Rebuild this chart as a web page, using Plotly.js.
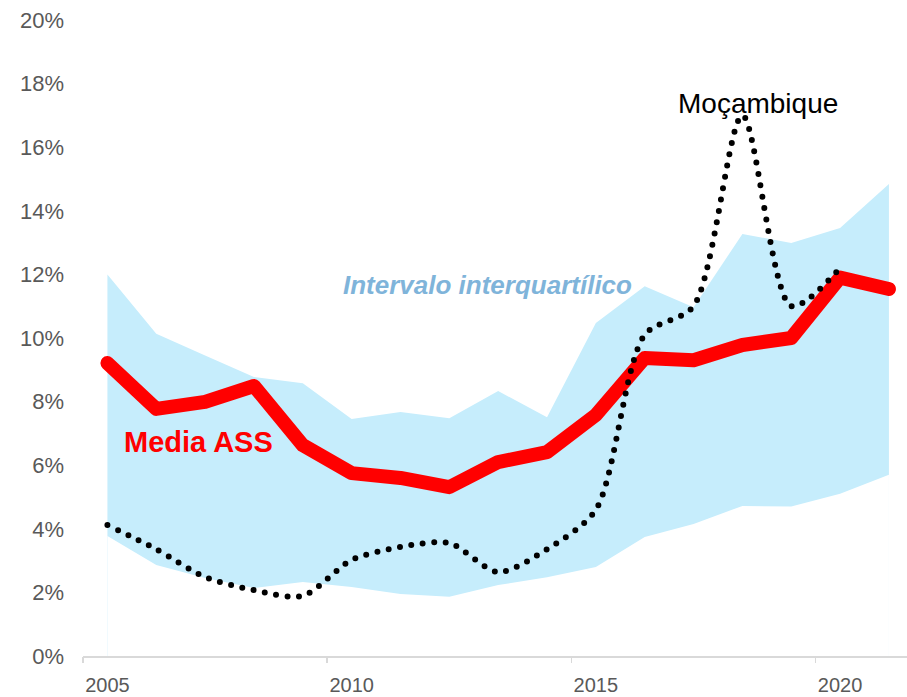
<!DOCTYPE html>
<html>
<head>
<meta charset="utf-8">
<script src="https://cdn.plot.ly/plotly-3.0.1.min.js"></script>
<style>
  html, body { margin: 0; padding: 0; background: #fff; }
  #chart { width: 907px; height: 697px; }
  .js-line { stroke-linecap: round !important; stroke-linejoin: round !important; }
</style>
</head>
<body>
<div id="chart"></div>
<script>
const years = [2005, 2006, 2007, 2008, 2009, 2010, 2011, 2012, 2013, 2014, 2015, 2016, 2017, 2018, 2019, 2020, 2021];
const iqrUpper = [12.0, 10.13, 9.45, 8.77, 8.58, 7.45, 7.67, 7.48, 8.33, 7.51, 10.47, 11.63, 10.97, 13.27, 12.99, 13.46, 14.84];
const iqrLower = [3.77, 2.86, 2.45, 2.14, 2.33, 2.17, 1.95, 1.86, 2.23, 2.48, 2.80, 3.74, 4.15, 4.72, 4.70, 5.10, 5.70];
const mediaASS = [9.21, 7.77, 7.99, 8.49, 6.63, 5.75, 5.60, 5.31, 6.10, 6.41, 7.58, 9.37, 9.30, 9.78, 10.0, 11.9, 11.54];
const mozYears = [2005, 2006, 2007, 2008, 2009, 2010, 2011, 2012, 2013, 2014, 2015, 2016, 2017, 2018, 2019, 2020];
const mozambique = [4.12, 3.36, 2.48, 2.07, 1.89, 3.02, 3.43, 3.55, 2.64, 3.36, 4.60, 10.1, 11.0, 17.0, 11.0, 12.2];
const xLabelVals = [2005, 2010, 2015, 2020];
const xLabelText = ['2005', '2010', '2015', '2020'];
const xTickMarks = [2004.5, 2009.5, 2014.5, 2019.5];
const yTickVals = [0, 2, 4, 6, 8, 10, 12, 14, 16, 18, 20];
const yTickText = yTickVals.map(v => v + '%');

const font = "'Liberation Sans', Arial, sans-serif";

const traces = [
  { x: years, y: iqrUpper, type: 'scatter', mode: 'lines', fill: 'tozeroy',
    fillcolor: '#C6EDFC', line: { width: 0, color: '#C6EDFC' }, hoverinfo: 'skip', showlegend: false },
  { x: years, y: iqrLower, type: 'scatter', mode: 'lines', fill: 'tozeroy',
    fillcolor: '#FFFFFF', line: { width: 0, color: '#FFFFFF' }, hoverinfo: 'skip', showlegend: false },
  { x: years, y: mediaASS, type: 'scatter', mode: 'lines',
    line: { width: 14, color: '#FF0000' }, showlegend: false },
  { x: mozYears, y: mozambique, type: 'scatter', mode: 'lines',
    line: { width: 6, color: '#000000', dash: '0px,11.5px', shape: 'spline', smoothing: 0.8 }, showlegend: false },
  { x: years, y: mediaASS, xaxis: 'x2', yaxis: 'y', type: 'scatter', mode: 'none',
    hoverinfo: 'skip', showlegend: false }
];

const xRange = [2004.5, 2021.37];

const layout = {
  width: 907, height: 697,
  margin: { l: 83, r: 0, t: 20, b: 41, pad: 0 },
  paper_bgcolor: '#FFFFFF', plot_bgcolor: '#FFFFFF',
  font: { family: font, color: '#595959' },
  showlegend: false,
  xaxis: {
    range: xRange, showgrid: false, zeroline: false,
    showline: true, linecolor: '#D9D9D9', linewidth: 2,
    tickmode: 'array', tickvals: xLabelVals, ticktext: xLabelText,
    ticks: '', ticklabelstandoff: 10,
    tickfont: { size: 20, color: '#595959', family: font }
  },
  xaxis2: {
    range: xRange, overlaying: 'x', anchor: 'y', side: 'bottom',
    showgrid: false, zeroline: false, showline: false, showticklabels: false,
    tickmode: 'array', tickvals: xTickMarks,
    ticks: 'outside', ticklen: 6, tickwidth: 1.5, tickcolor: '#D9D9D9'
  },
  yaxis: {
    range: [0, 20], showgrid: false, zeroline: false, showline: false,
    tickmode: 'array', tickvals: yTickVals, ticktext: yTickText,
    ticks: '', ticklabelstandoff: 18,
    tickfont: { size: 22, color: '#595959', family: font }
  },
  annotations: [
    { x: 2006.87, y: 6.73, xref: 'x', yref: 'y', text: '<b>Media ASS</b>', showarrow: false,
      font: { size: 29, color: '#FF0000', family: font } },
    { x: 2012.79, y: 11.67, xref: 'x', yref: 'y', text: '<b><i>Intervalo interquartílico</i></b>', showarrow: false,
      font: { size: 26, color: '#7FB4DA', family: font } },
    { x: 2018.31, y: 17.39, xref: 'x', yref: 'y', text: 'Moçambique', showarrow: false,
      font: { size: 28, color: '#000000', family: font } }
  ]
};

Plotly.newPlot('chart', traces, layout, { staticPlot: true, displayModeBar: false });
</script>
</body>
</html>
